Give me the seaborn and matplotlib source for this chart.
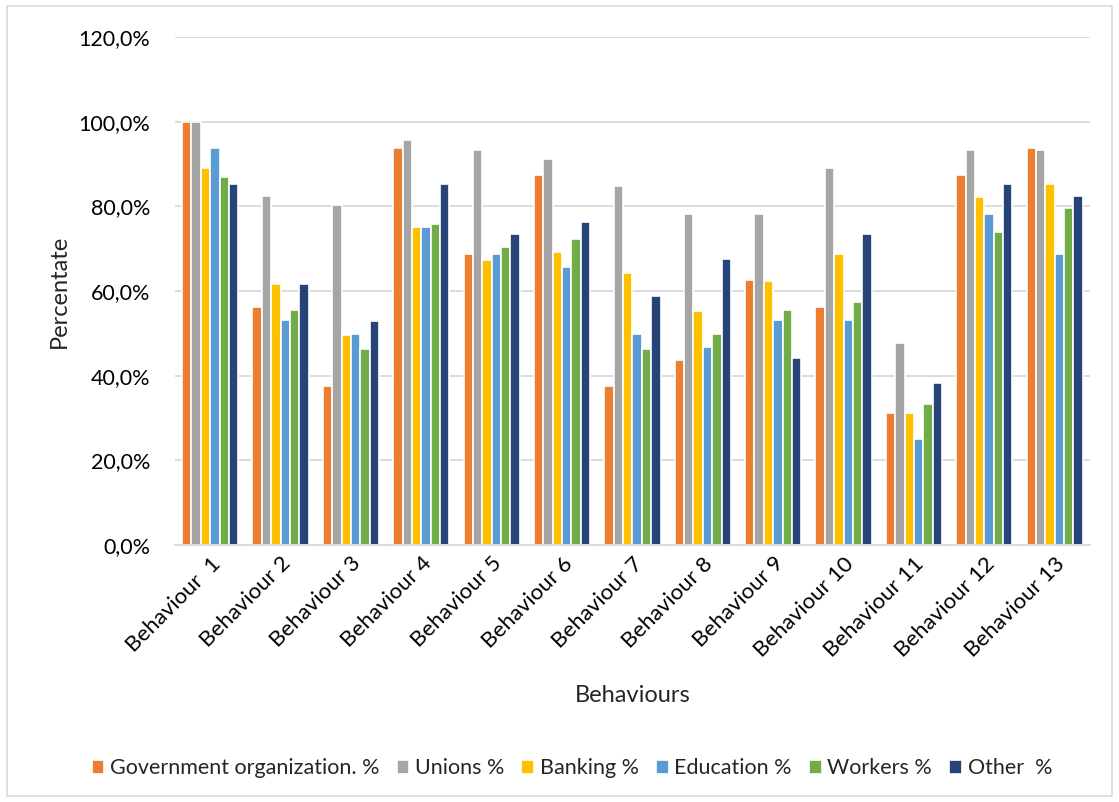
"""Grouped bar chart of behaviours by sector, Excel-style."""
import matplotlib
matplotlib.use("Agg")
import matplotlib.pyplot as plt
from matplotlib.patches import Rectangle
from matplotlib.ticker import FuncFormatter
import pandas as pd
import seaborn as sns

behaviours = ["Behaviour  1", "Behaviour 2", "Behaviour 3", "Behaviour 4",
              "Behaviour 5", "Behaviour 6", "Behaviour 7", "Behaviour 8",
              "Behaviour 9", "Behaviour 10", "Behaviour 11", "Behaviour 12",
              "Behaviour 13"]
groups = ["Government organization. %", "Unions %", "Banking %",
          "Education %", "Workers %", "Other  %"]

government = [100.0, 56.2, 37.5, 93.7, 68.7, 87.5, 37.5, 43.7, 62.5, 56.2,
              31.2, 87.5, 93.7]
unions = [100.0, 82.5, 80.4, 95.6, 93.4, 91.2, 84.7, 78.3, 78.3, 89.1,
          47.8, 93.4, 93.4]
banking = [89.1, 61.7, 49.6, 75.1, 67.4, 69.3, 64.2, 55.3, 62.4, 68.7,
           31.2, 82.1, 85.3]
education = [93.7, 53.1, 49.9, 75.0, 68.7, 65.6, 49.9, 46.8, 53.1, 53.1,
             25.0, 78.1, 68.7]
workers = [87.0, 55.5, 46.2, 75.9, 70.4, 72.2, 46.2, 49.9, 55.5, 57.4,
           33.3, 74.0, 79.6]
other = [85.2, 61.7, 52.9, 85.2, 73.5, 76.4, 58.8, 67.6, 44.1, 73.5,
         38.2, 85.3, 82.4]

colors = ["#ED7D31", "#A5A5A5", "#FFC000", "#5B9BD5", "#70AD47", "#264478"]


def main():
    series = [government, unions, banking, education, workers, other]
    rows = []
    for grp, vals in zip(groups, series):
        for beh, v in zip(behaviours, vals):
            rows.append({"Behaviour": beh, "Group": grp, "Value": v})
    df = pd.DataFrame(rows)

    sns.set_style("white")
    plt.rcParams["font.family"] = ["Lato", "DejaVu Sans"]

    fig = plt.figure(figsize=(11.19, 8.02), dpi=100)
    ax = fig.add_axes([0.1564, 0.3204, 0.8176, 0.6335])

    sns.barplot(data=df, x="Behaviour", y="Value", hue="Group",
                palette=colors, saturation=1, width=0.8, edgecolor="white",
                linewidth=1.2, ax=ax, legend=True)

    ax.set_ylim(0, 120)
    ax.set_yticks(range(0, 121, 20))
    ax.yaxis.set_major_formatter(
        FuncFormatter(lambda v, p: f"{v:.1f}%".replace(".", ",")))
    ax.grid(axis="y", color="#d9d9d9", linewidth=1.3)
    ax.set_axisbelow(True)
    for s in ["top", "right", "left"]:
        ax.spines[s].set_visible(False)
    ax.spines["bottom"].set_color("#d9d9d9")
    ax.spines["bottom"].set_linewidth(1.3)
    ax.tick_params(axis="both", length=0, labelsize=15.5, colors="#000000")
    ax.tick_params(axis="y", pad=18)
    ax.tick_params(axis="x", pad=6)
    ax.set_xlim(-0.5, 12.5)
    plt.setp(ax.get_xticklabels(), rotation=45, ha="right",
             rotation_mode="anchor", fontsize=16)

    ax.set_ylabel("Percentate", fontsize=17, labelpad=6)
    ax.set_xlabel("Behaviours", fontsize=17, labelpad=18)

    handles, labels = ax.get_legend_handles_labels()
    ax.legend_.remove()
    fig.legend(handles, labels, loc="center", ncol=6,
               bbox_to_anchor=(0.511, 0.042), frameon=False, fontsize=15.5,
               handlelength=0.6, handleheight=0.6, handletextpad=0.25,
               columnspacing=0.8)

    fig.patches.append(Rectangle((0.006, 0.008), 0.988, 0.984,
                                 transform=fig.transFigure, fill=False,
                                 edgecolor="#d9d9d9", linewidth=1.2))
    fig.savefig("out.png", dpi=100)


if __name__ == "__main__":
    main()
